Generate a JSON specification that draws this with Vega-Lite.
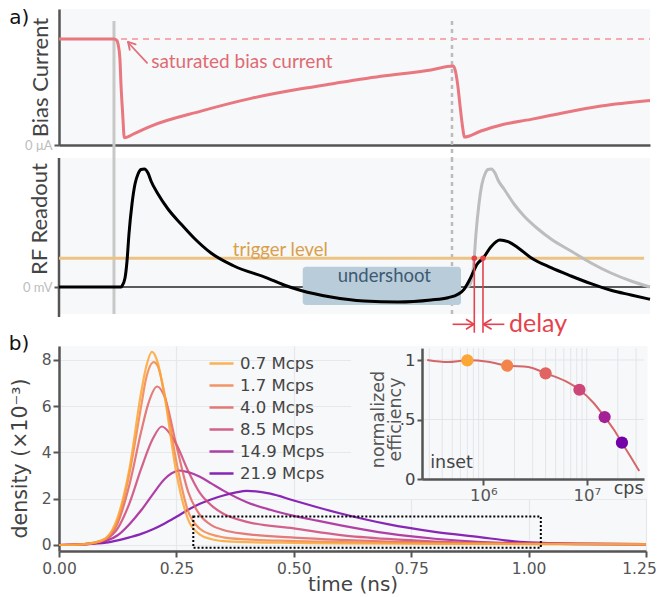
{
  "$schema": "https://vega.github.io/schema/vega-lite/v6.json",
  "background": "white",
  "padding": {"left": 8, "top": 7, "right": 8, "bottom": 4},
  "config": {"view": {"stroke": null, "fill": "#f7f8fa"}, "font": "Lato"},
  "bounds": "flush",
  "spacing": 13,
  "vconcat": [
    {
      "width": 591,
      "height": 136,
      "layer": [
        {
          "data": {"values": [{"t": 9.3, "v": 1.17, "v2": -0.123}]},
          "mark": {"type": "rule", "color": "#c8c8c8", "strokeWidth": 3, "clip": false},
          "encoding": {
            "x": {"field": "t", "type": "quantitative", "scale": {"domain": [0, 100], "nice": false, "zero": false},
              "axis": {"title": null, "labels": false, "ticks": false, "grid": false, "domainColor": "#555", "domainWidth": 2.5}},
            "y": {"field": "v", "type": "quantitative", "scale": {"domain": [0, 1.283], "nice": false},
              "axis": {"title": "Bias Current", "values": [0], "labelExpr": "'0 μA'", "labelFont": "Lato", "labelFontSize": 13, "labelColor": "#bdbdbd", "labelFlush": false, "tickSize": 5, "tickColor": "#555", "tickWidth": 2, "grid": false, "domainColor": "#555", "domainWidth": 2.5, "titleFont": "Lato", "titleFontSize": 22, "titleFontWeight": "normal", "titleColor": "#444", "titleX": -11.3, "titleBaseline": "alphabetic"}},
            "y2": {"field": "v2"}
          }
        },
        {
          "data": {"values": [{"t": 66.5, "v": 1.17, "v2": -0.123}]},
          "mark": {"type": "rule", "color": "#bbbbbb", "strokeWidth": 2.5, "strokeDash": [4, 4], "clip": false},
          "encoding": {"x": {"field": "t", "type": "quantitative"}, "y": {"field": "v", "type": "quantitative"}, "y2": {"field": "v2"}}
        },
        {
          "data": {"values": [{"t": 10.5, "v": 1}, {"t": 100, "v": 1}]},
          "mark": {"type": "line", "color": "#f4aaae", "strokeWidth": 2, "strokeDash": [6, 5]},
          "encoding": {"x": {"field": "t", "type": "quantitative"}, "y": {"field": "v", "type": "quantitative"}}
        },
        {
          "data": {"values": [
            {"t": 0, "v": 1.0}, {"t": 9.3, "v": 1.0}, {"t": 9.8, "v": 0.985}, {"t": 10.0, "v": 0.95}, {"t": 10.3, "v": 0.82}, {"t": 10.49, "v": 0.57}, {"t": 10.78, "v": 0.29}, {"t": 11.05, "v": 0.069},
            {"t": 12.74, "v": 0.107}, {"t": 15.57, "v": 0.179}, {"t": 24.03, "v": 0.32}, {"t": 32.49, "v": 0.44}, {"t": 40.95, "v": 0.53}, {"t": 46.02, "v": 0.576}, {"t": 54.48, "v": 0.648}, {"t": 62.94, "v": 0.708}, {"t": 66.67, "v": 0.745},
            {"t": 67.0, "v": 0.714}, {"t": 67.46, "v": 0.57}, {"t": 67.9, "v": 0.35}, {"t": 68.31, "v": 0.163}, {"t": 68.58, "v": 0.075},
            {"t": 71.4, "v": 0.132}, {"t": 74.79, "v": 0.189}, {"t": 79.86, "v": 0.242}, {"t": 83.25, "v": 0.28}, {"t": 91.71, "v": 0.368}, {"t": 100, "v": 0.42}
          ]},
          "mark": {"type": "line", "color": "#e8777f", "strokeWidth": 3, "interpolate": "monotone"},
          "encoding": {"x": {"field": "t", "type": "quantitative"}, "y": {"field": "v", "type": "quantitative"}}
        },
        {
          "data": {"values": [
            {"t": 11.8, "v": 0.96, "t2": 14.9, "v2": 0.774},
            {"t": 11.68, "v": 0.972, "t2": 11.96, "v2": 0.898},
            {"t": 11.68, "v": 0.972, "t2": 12.96, "v2": 0.949}
          ]},
          "mark": {"type": "rule", "color": "#e0707a", "strokeWidth": 1.8, "strokeCap": "round"},
          "encoding": {"x": {"field": "t", "type": "quantitative"}, "x2": {"field": "t2"}, "y": {"field": "v", "type": "quantitative"}, "y2": {"field": "v2"}}
        },
        {
          "data": {"values": [{"t": 15.6, "v": 0.729, "label": "saturated bias current"}]},
          "mark": {"type": "text", "font": "Lato", "fontSize": 19, "align": "left", "baseline": "alphabetic", "color": "#de6b73"},
          "encoding": {"x": {"field": "t", "type": "quantitative"}, "y": {"field": "v", "type": "quantitative"}, "text": {"field": "label"}}
        },
        {
          "data": {"values": [{"t": -6.72, "v": 1.2, "label": "a)"}]},
          "mark": {"type": "text", "font": "DejaVu Sans", "fontSize": 20, "align": "center", "baseline": "middle", "color": "#111", "clip": false},
          "encoding": {"x": {"field": "t", "type": "quantitative"}, "y": {"field": "v", "type": "quantitative"}, "text": {"field": "label"}}
        }
      ]
    },
    {
      "width": 591,
      "height": 175,
      "view": {"fill": null, "stroke": null},
      "layer": [
        {
          "data": {"values": [{"t": 0, "t2": 100, "v": 1.29, "v2": -0.27}]},
          "mark": {"type": "rect", "color": "#f7f8fa"},
          "encoding": {
            "x": {"field": "t", "type": "quantitative", "scale": {"domain": [0, 100], "nice": false, "zero": false}, "axis": null},
            "x2": {"field": "t2"},
            "y": {"field": "v", "type": "quantitative", "scale": {"domain": [-0.46, 1.29], "nice": false, "zero": false},
              "axis": {"title": "RF Readout", "values": [0], "labelExpr": "'0 mV'", "labelFont": "Lato", "labelFontSize": 13, "labelColor": "#bdbdbd", "labelFlush": false, "tickSize": 5, "tickColor": "#555", "tickWidth": 2, "grid": false, "domain": false, "titleFont": "Lato", "titleFontSize": 22, "titleFontWeight": "normal", "titleColor": "#444", "titleX": -12.5, "titleY": 60.5, "titleBaseline": "alphabetic"}},
            "y2": {"field": "v2"}
          }
        },
        {
          "data": {"values": [{"t": 0, "v": 1.29, "v2": -0.3}]},
          "mark": {"type": "rule", "color": "#555555", "strokeWidth": 2.5, "clip": false},
          "encoding": {"x": {"field": "t", "type": "quantitative"}, "y": {"field": "v", "type": "quantitative"}, "y2": {"field": "v2"}}
        },
        {
          "data": {"values": [{"t": 9.3, "v": 1.29, "v2": -0.27}]},
          "mark": {"type": "rule", "color": "#c8c8c8", "strokeWidth": 3, "clip": false},
          "encoding": {"x": {"field": "t", "type": "quantitative"}, "y": {"field": "v", "type": "quantitative"}, "y2": {"field": "v2"}}
        },
        {
          "data": {"values": [{"t": 66.5, "v": 1.29, "v2": -0.27}]},
          "mark": {"type": "rule", "color": "#bbbbbb", "strokeWidth": 2.5, "strokeDash": [4, 4], "clip": false},
          "encoding": {"x": {"field": "t", "type": "quantitative"}, "y": {"field": "v", "type": "quantitative"}, "y2": {"field": "v2"}}
        },
        {
          "data": {"values": [{"t": 0, "v": 0}, {"t": 100, "v": 0}]},
          "mark": {"type": "line", "color": "#5a5a5a", "strokeWidth": 2},
          "encoding": {"x": {"field": "t", "type": "quantitative"}, "y": {"field": "v", "type": "quantitative"}}
        },
        {
          "data": {"values": [{"t": 0, "v": 0.287}, {"t": 99, "v": 0.287}]},
          "mark": {"type": "line", "color": "#ecc383", "strokeWidth": 3},
          "encoding": {"x": {"field": "t", "type": "quantitative"}, "y": {"field": "v", "type": "quantitative"}}
        },
        {
          "data": {"values": [{"t": 41.24, "t2": 68.02, "v": 0.203, "v2": -0.18}]},
          "mark": {"type": "rect", "color": "#b9ccd9", "cornerRadius": 3, "opacity": 1},
          "encoding": {"x": {"field": "t", "type": "quantitative"}, "x2": {"field": "t2"}, "y": {"field": "v", "type": "quantitative"}, "y2": {"field": "v2"}}
        },
        {
          "data": {"values": [{"t": 55.04, "v": 0.11, "label": "undershoot"}]},
          "mark": {"type": "text", "font": "Lato", "fontSize": 18.5, "align": "center", "baseline": "middle", "color": "#3d5a73"},
          "encoding": {"x": {"field": "t", "type": "quantitative"}, "y": {"field": "v", "type": "quantitative"}, "text": {"field": "label"}}
        },
        {
          "data": {"values": [{"t": 45.5, "v": 0.37, "label": "trigger level"}]},
          "mark": {"type": "text", "font": "Lato", "fontSize": 18.5, "align": "right", "baseline": "middle", "color": "#d9a04a"},
          "encoding": {"x": {"field": "t", "type": "quantitative"}, "y": {"field": "v", "type": "quantitative"}, "text": {"field": "label"}}
        },
        {
          "data": {"values": [
            {"t": 68.9, "v": 0.0}, {"t": 69.37, "v": 0.01}, {"t": 69.88, "v": 0.09}, {"t": 70.22, "v": 0.26}, {"t": 70.55, "v": 0.53}, {"t": 71.06, "v": 0.83}, {"t": 71.57, "v": 1.03}, {"t": 72.08, "v": 1.13}, {"t": 72.58, "v": 1.175}, {"t": 73.14, "v": 1.18}, {"t": 73.77, "v": 1.14}, {"t": 74.28, "v": 1.07},
            {"t": 75.3, "v": 0.98}, {"t": 76.99, "v": 0.83}, {"t": 78.68, "v": 0.71}, {"t": 81.05, "v": 0.58}, {"t": 83.25, "v": 0.48}, {"t": 86.63, "v": 0.36}, {"t": 90.02, "v": 0.24}, {"t": 93.4, "v": 0.14}, {"t": 96.79, "v": 0.06}, {"t": 100, "v": 0.0}
          ]},
          "mark": {"type": "line", "color": "#bdbdbd", "strokeWidth": 3, "interpolate": "monotone"},
          "encoding": {"x": {"field": "t", "type": "quantitative"}, "y": {"field": "v", "type": "quantitative"}}
        },
        {
          "data": {"values": [
            {"t": 0, "v": 0}, {"t": 10.49, "v": 0}, {"t": 10.66, "v": 0.01}, {"t": 11.17, "v": 0.09}, {"t": 11.51, "v": 0.26}, {"t": 11.84, "v": 0.53}, {"t": 12.35, "v": 0.83}, {"t": 12.86, "v": 1.03}, {"t": 13.37, "v": 1.13}, {"t": 13.87, "v": 1.175}, {"t": 14.43, "v": 1.18}, {"t": 15.06, "v": 1.14}, {"t": 15.57, "v": 1.06}, {"t": 16.75, "v": 0.93}, {"t": 18.44, "v": 0.78}, {"t": 20.64, "v": 0.63}, {"t": 22.84, "v": 0.49}, {"t": 25.72, "v": 0.34}, {"t": 29.61, "v": 0.21}, {"t": 35.36, "v": 0.087}, {"t": 38.07, "v": 0.02}, {"t": 40.95, "v": -0.035}, {"t": 46.02, "v": -0.1}, {"t": 51.61, "v": -0.14}, {"t": 57.36, "v": -0.15}, {"t": 62.94, "v": -0.13}, {"t": 65.82, "v": -0.107}, {"t": 67.51, "v": -0.073}, {"t": 68.53, "v": -0.023}, {"t": 69.37, "v": 0.06}, {"t": 70.05, "v": 0.143}, {"t": 70.73, "v": 0.227}, {"t": 71.74, "v": 0.287}, {"t": 73.1, "v": 0.403}, {"t": 74.6, "v": 0.47}, {"t": 75.97, "v": 0.453}, {"t": 77.66, "v": 0.393}, {"t": 79.86, "v": 0.293}, {"t": 83.25, "v": 0.193}, {"t": 86.63, "v": 0.11}, {"t": 90.02, "v": 0.033}, {"t": 93.4, "v": -0.033}, {"t": 96.79, "v": -0.08}, {"t": 100, "v": -0.123}
          ]},
          "mark": {"type": "line", "color": "#000000", "strokeWidth": 3, "interpolate": "monotone"},
          "encoding": {"x": {"field": "t", "type": "quantitative"}, "y": {"field": "v", "type": "quantitative"}}
        },
        {
          "data": {"values": [
            {"t": 70.27, "v": 0.287, "t2": 70.27, "v2": -0.457},
            {"t": 71.74, "v": 0.287, "t2": 71.74, "v2": -0.457},
            {"t": 66.6, "v": -0.373, "t2": 70.2, "v2": -0.373},
            {"t": 70.2, "v": -0.373, "t2": 68.87, "v2": -0.323},
            {"t": 70.2, "v": -0.373, "t2": 68.87, "v2": -0.423},
            {"t": 71.8, "v": -0.373, "t2": 75.35, "v2": -0.373},
            {"t": 71.8, "v": -0.373, "t2": 73.2, "v2": -0.323},
            {"t": 71.8, "v": -0.373, "t2": 73.2, "v2": -0.423}
          ]},
          "mark": {"type": "rule", "color": "#e5424d", "strokeWidth": 1.6, "clip": false},
          "encoding": {"x": {"field": "t", "type": "quantitative"}, "x2": {"field": "t2"}, "y": {"field": "v", "type": "quantitative"}, "y2": {"field": "v2"}}
        },
        {
          "data": {"values": [{"t": 70.27, "v": 0.287}, {"t": 71.74, "v": 0.287}]},
          "mark": {"type": "point", "filled": true, "color": "#e5424d", "size": 30, "opacity": 1},
          "encoding": {"x": {"field": "t", "type": "quantitative"}, "y": {"field": "v", "type": "quantitative"}}
        },
        {
          "data": {"values": [{"t": 76.14, "v": -0.37, "label": "delay"}]},
          "mark": {"type": "text", "font": "Lato", "fontSize": 25, "align": "left", "baseline": "middle", "color": "#e5424d", "clip": false},
          "encoding": {"x": {"field": "t", "type": "quantitative"}, "y": {"field": "v", "type": "quantitative"}, "text": {"field": "label"}}
        }
      ]
    },
    {
      "width": 587,
      "height": 205,
      "layer": [
        {
          "layer": [
            {
              "data": {"values": [
                {"r": "21.9 Mcps", "t": 0, "d": 0}, {"r": "21.9 Mcps", "t": 0.05, "d": 0.03}, {"r": "21.9 Mcps", "t": 0.1, "d": 0.1}, {"r": "21.9 Mcps", "t": 0.125, "d": 0.2}, {"r": "21.9 Mcps", "t": 0.15, "d": 0.33}, {"r": "21.9 Mcps", "t": 0.175, "d": 0.48}, {"r": "21.9 Mcps", "t": 0.2, "d": 0.68}, {"r": "21.9 Mcps", "t": 0.225, "d": 0.93}, {"r": "21.9 Mcps", "t": 0.25, "d": 1.22}, {"r": "21.9 Mcps", "t": 0.275, "d": 1.52}, {"r": "21.9 Mcps", "t": 0.3, "d": 1.78}, {"r": "21.9 Mcps", "t": 0.325, "d": 1.98}, {"r": "21.9 Mcps", "t": 0.35, "d": 2.14}, {"r": "21.9 Mcps", "t": 0.375, "d": 2.26}, {"r": "21.9 Mcps", "t": 0.4, "d": 2.34}, {"r": "21.9 Mcps", "t": 0.45, "d": 2.22}, {"r": "21.9 Mcps", "t": 0.5, "d": 1.92}, {"r": "21.9 Mcps", "t": 0.55, "d": 1.63}, {"r": "21.9 Mcps", "t": 0.6, "d": 1.36}, {"r": "21.9 Mcps", "t": 0.7, "d": 0.9}, {"r": "21.9 Mcps", "t": 0.8, "d": 0.57}, {"r": "21.9 Mcps", "t": 0.9, "d": 0.33}, {"r": "21.9 Mcps", "t": 0.95, "d": 0.2}, {"r": "21.9 Mcps", "t": 1.0, "d": 0.11}, {"r": "21.9 Mcps", "t": 1.1, "d": 0.06}, {"r": "21.9 Mcps", "t": 1.25, "d": 0.04},
                {"r": "14.9 Mcps", "t": 0, "d": 0}, {"r": "14.9 Mcps", "t": 0.05, "d": 0.03}, {"r": "14.9 Mcps", "t": 0.075, "d": 0.07}, {"r": "14.9 Mcps", "t": 0.1, "d": 0.17}, {"r": "14.9 Mcps", "t": 0.125, "d": 0.42}, {"r": "14.9 Mcps", "t": 0.15, "d": 0.9}, {"r": "14.9 Mcps", "t": 0.175, "d": 1.5}, {"r": "14.9 Mcps", "t": 0.2, "d": 2.2}, {"r": "14.9 Mcps", "t": 0.225, "d": 2.85}, {"r": "14.9 Mcps", "t": 0.24, "d": 3.1}, {"r": "14.9 Mcps", "t": 0.256, "d": 3.22}, {"r": "14.9 Mcps", "t": 0.275, "d": 3.15}, {"r": "14.9 Mcps", "t": 0.3, "d": 2.95}, {"r": "14.9 Mcps", "t": 0.325, "d": 2.65}, {"r": "14.9 Mcps", "t": 0.35, "d": 2.35}, {"r": "14.9 Mcps", "t": 0.4, "d": 1.85}, {"r": "14.9 Mcps", "t": 0.45, "d": 1.52}, {"r": "14.9 Mcps", "t": 0.5, "d": 1.26}, {"r": "14.9 Mcps", "t": 0.55, "d": 1.05}, {"r": "14.9 Mcps", "t": 0.6, "d": 0.85}, {"r": "14.9 Mcps", "t": 0.7, "d": 0.5}, {"r": "14.9 Mcps", "t": 0.8, "d": 0.27}, {"r": "14.9 Mcps", "t": 0.9, "d": 0.13}, {"r": "14.9 Mcps", "t": 1.0, "d": 0.07}, {"r": "14.9 Mcps", "t": 1.1, "d": 0.04}, {"r": "14.9 Mcps", "t": 1.25, "d": 0.03},
                {"r": "8.5 Mcps", "t": 0, "d": 0}, {"r": "8.5 Mcps", "t": 0.05, "d": 0.03}, {"r": "8.5 Mcps", "t": 0.075, "d": 0.08}, {"r": "8.5 Mcps", "t": 0.1, "d": 0.24}, {"r": "8.5 Mcps", "t": 0.125, "d": 0.72}, {"r": "8.5 Mcps", "t": 0.15, "d": 1.8}, {"r": "8.5 Mcps", "t": 0.175, "d": 3.3}, {"r": "8.5 Mcps", "t": 0.2, "d": 4.6}, {"r": "8.5 Mcps", "t": 0.219, "d": 5.12}, {"r": "8.5 Mcps", "t": 0.235, "d": 4.85}, {"r": "8.5 Mcps", "t": 0.25, "d": 4.35}, {"r": "8.5 Mcps", "t": 0.275, "d": 3.2}, {"r": "8.5 Mcps", "t": 0.3, "d": 2.25}, {"r": "8.5 Mcps", "t": 0.325, "d": 1.7}, {"r": "8.5 Mcps", "t": 0.35, "d": 1.35}, {"r": "8.5 Mcps", "t": 0.4, "d": 1.0}, {"r": "8.5 Mcps", "t": 0.5, "d": 0.72}, {"r": "8.5 Mcps", "t": 0.6, "d": 0.43}, {"r": "8.5 Mcps", "t": 0.7, "d": 0.26}, {"r": "8.5 Mcps", "t": 0.8, "d": 0.15}, {"r": "8.5 Mcps", "t": 0.9, "d": 0.09}, {"r": "8.5 Mcps", "t": 1.0, "d": 0.06}, {"r": "8.5 Mcps", "t": 1.25, "d": 0.03},
                {"r": "4.0 Mcps", "t": 0, "d": 0}, {"r": "4.0 Mcps", "t": 0.05, "d": 0.03}, {"r": "4.0 Mcps", "t": 0.075, "d": 0.09}, {"r": "4.0 Mcps", "t": 0.1, "d": 0.27}, {"r": "4.0 Mcps", "t": 0.125, "d": 0.95}, {"r": "4.0 Mcps", "t": 0.15, "d": 2.6}, {"r": "4.0 Mcps", "t": 0.175, "d": 4.9}, {"r": "4.0 Mcps", "t": 0.19, "d": 6.1}, {"r": "4.0 Mcps", "t": 0.209, "d": 6.85}, {"r": "4.0 Mcps", "t": 0.225, "d": 6.4}, {"r": "4.0 Mcps", "t": 0.25, "d": 4.3}, {"r": "4.0 Mcps", "t": 0.275, "d": 2.3}, {"r": "4.0 Mcps", "t": 0.3, "d": 1.3}, {"r": "4.0 Mcps", "t": 0.325, "d": 0.85}, {"r": "4.0 Mcps", "t": 0.35, "d": 0.65}, {"r": "4.0 Mcps", "t": 0.4, "d": 0.47}, {"r": "4.0 Mcps", "t": 0.5, "d": 0.32}, {"r": "4.0 Mcps", "t": 0.6, "d": 0.22}, {"r": "4.0 Mcps", "t": 0.7, "d": 0.15}, {"r": "4.0 Mcps", "t": 0.8, "d": 0.1}, {"r": "4.0 Mcps", "t": 1.0, "d": 0.06}, {"r": "4.0 Mcps", "t": 1.25, "d": 0.04},
                {"r": "1.7 Mcps", "t": 0, "d": 0}, {"r": "1.7 Mcps", "t": 0.05, "d": 0.03}, {"r": "1.7 Mcps", "t": 0.075, "d": 0.1}, {"r": "1.7 Mcps", "t": 0.1, "d": 0.28}, {"r": "1.7 Mcps", "t": 0.125, "d": 1.05}, {"r": "1.7 Mcps", "t": 0.15, "d": 3.1}, {"r": "1.7 Mcps", "t": 0.175, "d": 6.0}, {"r": "1.7 Mcps", "t": 0.185, "d": 7.15}, {"r": "1.7 Mcps", "t": 0.202, "d": 7.9}, {"r": "1.7 Mcps", "t": 0.21, "d": 7.75}, {"r": "1.7 Mcps", "t": 0.225, "d": 6.5}, {"r": "1.7 Mcps", "t": 0.25, "d": 3.6}, {"r": "1.7 Mcps", "t": 0.275, "d": 1.45}, {"r": "1.7 Mcps", "t": 0.3, "d": 0.7}, {"r": "1.7 Mcps", "t": 0.325, "d": 0.45}, {"r": "1.7 Mcps", "t": 0.35, "d": 0.33}, {"r": "1.7 Mcps", "t": 0.4, "d": 0.24}, {"r": "1.7 Mcps", "t": 0.5, "d": 0.17}, {"r": "1.7 Mcps", "t": 0.6, "d": 0.12}, {"r": "1.7 Mcps", "t": 0.8, "d": 0.07}, {"r": "1.7 Mcps", "t": 1.0, "d": 0.05}, {"r": "1.7 Mcps", "t": 1.25, "d": 0.04},
                {"r": "0.7 Mcps", "t": 0, "d": 0}, {"r": "0.7 Mcps", "t": 0.05, "d": 0.03}, {"r": "0.7 Mcps", "t": 0.075, "d": 0.1}, {"r": "0.7 Mcps", "t": 0.1, "d": 0.3}, {"r": "0.7 Mcps", "t": 0.125, "d": 1.2}, {"r": "0.7 Mcps", "t": 0.15, "d": 3.3}, {"r": "0.7 Mcps", "t": 0.175, "d": 6.6}, {"r": "0.7 Mcps", "t": 0.185, "d": 7.65}, {"r": "0.7 Mcps", "t": 0.198, "d": 8.35}, {"r": "0.7 Mcps", "t": 0.21, "d": 7.9}, {"r": "0.7 Mcps", "t": 0.225, "d": 6.4}, {"r": "0.7 Mcps", "t": 0.25, "d": 3.1}, {"r": "0.7 Mcps", "t": 0.275, "d": 1.1}, {"r": "0.7 Mcps", "t": 0.3, "d": 0.45}, {"r": "0.7 Mcps", "t": 0.325, "d": 0.25}, {"r": "0.7 Mcps", "t": 0.35, "d": 0.17}, {"r": "0.7 Mcps", "t": 0.4, "d": 0.12}, {"r": "0.7 Mcps", "t": 0.5, "d": 0.09}, {"r": "0.7 Mcps", "t": 0.6, "d": 0.07}, {"r": "0.7 Mcps", "t": 0.8, "d": 0.05}, {"r": "0.7 Mcps", "t": 1.0, "d": 0.04}, {"r": "0.7 Mcps", "t": 1.25, "d": 0.03}
              ]},
              "mark": {"type": "line", "interpolate": "monotone", "strokeWidth": 2.2, "opacity": 0.85},
              "encoding": {
                "x": {"field": "t", "type": "quantitative", "scale": {"domain": [0, 1.25], "nice": false, "zero": false},
                  "axis": {"values": [0, 0.25, 0.5, 0.75, 1, 1.25], "format": ".2f", "title": "time (ns)", "labelFont": "DejaVu Sans", "labelFontSize": 15.5, "labelColor": "#555", "labelFlush": false, "labelPadding": 4, "labelOffset": {"condition": {"test": "datum.value == 1.25", "value": -7}, "value": 0}, "tickSize": 6, "tickWidth": 2, "tickColor": "#555", "domainColor": "#555", "domainWidth": 2.5, "gridColor": "#e6e8eb", "gridWidth": 1.2, "titleFont": "DejaVu Sans", "titleFontSize": 20, "titleFontWeight": "normal", "titleColor": "#444", "titleY": 39, "titleBaseline": "alphabetic"}},
                "y": {"field": "d", "type": "quantitative", "scale": {"domain": [-0.26, 8.6], "nice": false, "zero": false},
                  "axis": {"values": [0, 2, 4, 6, 8], "title": "density (×10⁻³)", "labelFont": "DejaVu Sans", "labelFontSize": 15.5, "labelColor": "#555", "labelFlush": false, "tickSize": 6, "tickWidth": 2, "tickColor": "#555", "domainColor": "#555", "domainWidth": 2.5, "gridColor": "#e6e8eb", "gridWidth": 1.2, "titleFont": "DejaVu Sans", "titleFontSize": 20.5, "titleFontWeight": "normal", "titleColor": "#444", "titleX": -32.5, "titleY": 112, "titleBaseline": "alphabetic"}},
                "color": {"field": "r", "type": "nominal",
                  "scale": {"domain": ["0.7 Mcps", "1.7 Mcps", "4.0 Mcps", "8.5 Mcps", "14.9 Mcps", "21.9 Mcps"], "range": ["#fca636", "#f2844b", "#e16462", "#cc4778", "#a32097", "#7401a8"]},
                  "legend": {"title": null, "orient": "none", "legendX": 149, "legendY": 4, "symbolType": "stroke", "symbolSize": 576, "symbolStrokeWidth": 2.5, "symbolOpacity": 0.85, "labelFont": "DejaVu Sans", "labelFontSize": 16.5, "labelColor": "#444", "labelOffset": 5, "rowPadding": -2, "padding": 0}}
              }
            },
            {
              "data": {"values": [{"t": 0.286, "t2": 1.026, "d": 1.23, "d2": -0.12}]},
              "mark": {"type": "rect", "fillOpacity": 0, "stroke": "#000", "strokeWidth": 2, "strokeDash": [2, 2]},
              "encoding": {"x": {"field": "t", "type": "quantitative"}, "x2": {"field": "t2"}, "y": {"field": "d", "type": "quantitative"}, "y2": {"field": "d2"}}
            },
            {
              "data": {"values": [{"t": -0.0852, "d": 8.68, "label": "b)"}]},
              "mark": {"type": "text", "font": "DejaVu Sans", "fontSize": 20, "align": "center", "baseline": "middle", "color": "#111", "clip": false},
              "encoding": {"x": {"field": "t", "type": "quantitative"}, "y": {"field": "d", "type": "quantitative"}, "text": {"field": "label"}}
            }
          ]
        },
        {
          "layer": [
            {
              "data": {"values": [{"c": 52500, "c2": 38500000, "e": 1.118, "e2": -0.168}]},
              "mark": {"type": "rect", "fill": "#f7f8fa", "clip": false},
              "encoding": {
                "x": {"field": "c", "type": "quantitative", "scale": {"type": "log", "domain": [255000, 35800000], "range": [363, 585], "nice": false},
                  "axis": {"orient": "bottom", "offset": -72, "values": [1000000, 10000000], "labelExpr": "datum.value == 1000000 ? '10⁶' : '10⁷'", "title": null, "grid": false, "domainColor": "#555", "domainWidth": 2.5, "tickColor": "#555", "tickWidth": 2, "tickSize": 6, "labelFont": "DejaVu Sans", "labelFontSize": 16.5, "labelColor": "#555", "labelPadding": 2, "labelFlush": false, "zindex": 1}},
                "x2": {"field": "c2"},
                "y": {"field": "e", "type": "quantitative", "scale": {"domain": [0, 1.1], "range": [133, 2.1], "nice": false},
                  "axis": {"orient": "left", "offset": -363, "values": [0, 0.5, 1], "labelExpr": "datum.value == 0.5 ? '.5' : (datum.value == 1 ? '1' : '0')", "grid": false, "domainColor": "#555", "domainWidth": 2.5, "tickColor": "#555", "tickWidth": 2, "tickSize": 5, "labelFont": "DejaVu Sans", "labelFontSize": 16.5, "labelColor": "#444", "labelFlush": false, "title": ["normalized", "efficiency"], "titleFont": "DejaVu Sans", "titleFontSize": 17.5, "titleFontWeight": "normal", "titleColor": "#555", "titleLineHeight": 17, "titleX": -44, "titleY": 73, "titleBaseline": "middle", "zindex": 1}},
                "y2": {"field": "e2"}
              }
            },
            {
              "data": {"values": [
                {"c": 300000, "e": 0, "e2": 1.1}, {"c": 400000, "e": 0, "e2": 1.1}, {"c": 500000, "e": 0, "e2": 1.1}, {"c": 600000, "e": 0, "e2": 1.1}, {"c": 700000, "e": 0, "e2": 1.1}, {"c": 800000, "e": 0, "e2": 1.1}, {"c": 900000, "e": 0, "e2": 1.1},
                {"c": 1000000, "e": 0, "e2": 1.1}, {"c": 2000000, "e": 0, "e2": 1.1}, {"c": 3000000, "e": 0, "e2": 1.1}, {"c": 4000000, "e": 0, "e2": 1.1}, {"c": 5000000, "e": 0, "e2": 1.1}, {"c": 6000000, "e": 0, "e2": 1.1}, {"c": 7000000, "e": 0, "e2": 1.1}, {"c": 8000000, "e": 0, "e2": 1.1}, {"c": 9000000, "e": 0, "e2": 1.1},
                {"c": 10000000, "e": 0, "e2": 1.1}, {"c": 20000000, "e": 0, "e2": 1.1}, {"c": 30000000, "e": 0, "e2": 1.1}
              ]},
              "mark": {"type": "rule", "color": "#e3e5e9", "strokeWidth": 1},
              "encoding": {"x": {"field": "c", "type": "quantitative"}, "y": {"field": "e", "type": "quantitative"}, "y2": {"field": "e2"}}
            },
            {
              "data": {"values": [{"c": 255000, "c2": 35800000, "e": 0.5}, {"c": 255000, "c2": 35800000, "e": 1.0}]},
              "mark": {"type": "rule", "color": "#e3e5e9", "strokeWidth": 1},
              "encoding": {"x": {"field": "c", "type": "quantitative"}, "x2": {"field": "c2"}, "y": {"field": "e", "type": "quantitative"}}
            },
            {
              "data": {"values": [
                {"c": 286000, "e": 1.0}, {"c": 454000, "e": 0.983}, {"c": 700000, "e": 0.997}, {"c": 1110000, "e": 0.986}, {"c": 1700000, "e": 0.952}, {"c": 2720000, "e": 0.941}, {"c": 4000000, "e": 0.888}, {"c": 6170000, "e": 0.824}, {"c": 8500000, "e": 0.75}, {"c": 11600000, "e": 0.641}, {"c": 14900000, "e": 0.521}, {"c": 18200000, "e": 0.418}, {"c": 21900000, "e": 0.305}, {"c": 26300000, "e": 0.193}, {"c": 32200000, "e": 0.067}
              ]},
              "mark": {"type": "line", "color": "#d4676a", "strokeWidth": 2, "interpolate": "monotone"},
              "encoding": {"x": {"field": "c", "type": "quantitative"}, "y": {"field": "e", "type": "quantitative"}}
            },
            {
              "data": {"values": [
                {"c": 700000, "e": 0.997, "r": "0.7 Mcps"}, {"c": 1700000, "e": 0.952, "r": "1.7 Mcps"}, {"c": 4000000, "e": 0.888, "r": "4.0 Mcps"}, {"c": 8500000, "e": 0.75, "r": "8.5 Mcps"}, {"c": 14900000, "e": 0.521, "r": "14.9 Mcps"}, {"c": 21900000, "e": 0.305, "r": "21.9 Mcps"}
              ]},
              "mark": {"type": "point", "filled": true, "size": 150, "opacity": 1},
              "encoding": {
                "x": {"field": "c", "type": "quantitative"},
                "y": {"field": "e", "type": "quantitative"},
                "color": {"field": "r", "type": "nominal", "scale": {"domain": ["0.7 Mcps", "1.7 Mcps", "4.0 Mcps", "8.5 Mcps", "14.9 Mcps", "21.9 Mcps"], "range": ["#fca636", "#f2844b", "#e16462", "#cc4778", "#a32097", "#7401a8"]}, "legend": null}
              }
            },
            {
              "data": {"values": [{"c": 306000, "e": 0.137, "label": "inset"}]},
              "mark": {"type": "text", "font": "DejaVu Sans", "fontSize": 17.5, "align": "left", "baseline": "middle", "color": "#444"},
              "encoding": {"x": {"field": "c", "type": "quantitative"}, "y": {"field": "e", "type": "quantitative"}, "text": {"field": "label"}}
            },
            {
              "data": {"values": [{"c": 25400000, "e": -0.124, "label": "cps"}]},
              "mark": {"type": "text", "font": "DejaVu Sans", "fontSize": 17.5, "align": "center", "baseline": "alphabetic", "color": "#444", "clip": false},
              "encoding": {"x": {"field": "c", "type": "quantitative"}, "y": {"field": "e", "type": "quantitative"}, "text": {"field": "label"}}
            }
          ]
        }
      ],
      "resolve": {"scale": {"x": "independent", "y": "independent", "color": "independent"}, "axis": {"x": "independent", "y": "independent"}, "legend": {"color": "independent"}}
    }
  ]
}
